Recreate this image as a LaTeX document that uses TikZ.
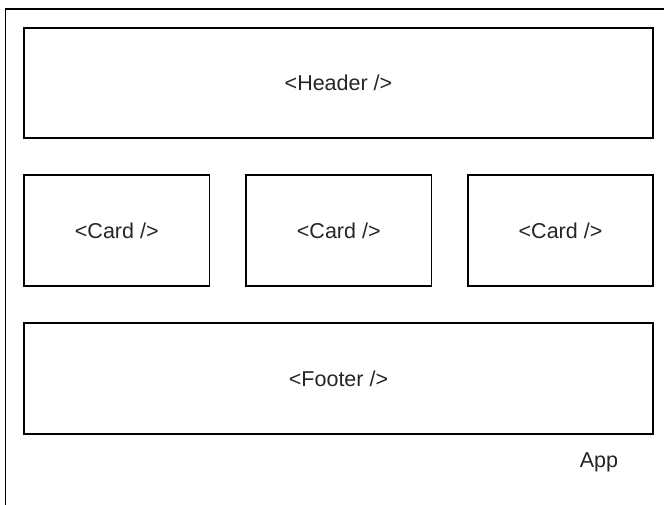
\documentclass[tikz,border=0pt]{standalone}
\usepackage{fontspec}
\setmainfont{Liberation Sans}
\begin{document}
\begin{tikzpicture}[x=1pt,y=-1pt,
  box/.style={draw=black,line width=1.2pt,fill=white,inner sep=0pt},
  lbl/.style={font=\fontsize{21.5}{24}\selectfont,text=black!85}]
\useasboundingbox[fill=white] (0,0) rectangle (664,505);
\draw[line width=1.2pt] (5.5,515) -- (5.5,9) -- (675,9);
\draw[box] (24,28) rectangle (653,138);
\node[lbl] (header) at (338.5,83) {<Header />};
\draw[box] (24,175) rectangle (209.5,286);
\node[lbl] (card1) at (116.75,230.5) {<Card />};
\draw[box] (246,175) rectangle (431.5,286);
\node[lbl] (card2) at (338.75,230.5) {<Card />};
\draw[box] (468,175) rectangle (653,286);
\node[lbl] (card3) at (560.5,230.5) {<Card />};
\draw[box] (24,323) rectangle (653,434);
\node[lbl] (footer) at (338.5,378.5) {<Footer />};
\node[lbl] (app) at (599,462) {App};
\end{tikzpicture}
\end{document}
